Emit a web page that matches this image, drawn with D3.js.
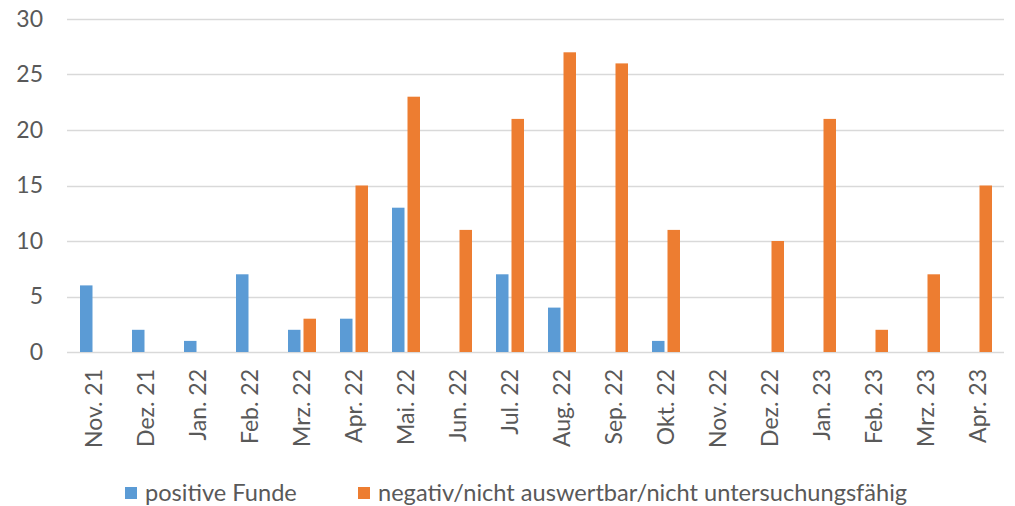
<!DOCTYPE html>
<html>
<head>
<meta charset="utf-8">
<script src="https://cdn.jsdelivr.net/npm/d3@7"></script>
<style>
  html, body { margin: 0; padding: 0; background: #fff; }
  svg { display: block; font-family: Lato, "Open Sans", sans-serif; }
</style>
</head>
<body>
<svg id="chart" width="1015" height="506"></svg>
<script>
// Monthly sample results
const months = ["Nov. 21", "Dez. 21", "Jan. 22", "Feb. 22", "Mrz. 22", "Apr. 22",
  "Mai. 22", "Jun. 22", "Jul. 22", "Aug. 22", "Sep. 22", "Okt. 22",
  "Nov. 22", "Dez. 22", "Jan. 23", "Feb. 23", "Mrz. 23", "Apr. 23"];
const positiveFunde = [6, 2, 1, 7, 2, 3, 13, 0, 7, 4, 0, 1, 0, 0, 0, 0, 0, 0];
const negativFunde = [0, 0, 0, 0, 3, 15, 23, 11, 21, 27, 26, 11, 0, 10, 21, 2, 7, 15];
const seriesNames = ["positive Funde", "negativ/nicht auswertbar/nicht untersuchungsfähig"];
const yTicks = [0, 5, 10, 15, 20, 25, 30];

const colors = ["#5B9BD5", "#ED7D31"];
const textColor = "#595959";
const fontSize = "23px";
const svg = d3.select("#chart");

const plot = { left: 68, right: 1004, top: 19, bottom: 352 };

const x = d3.scaleBand().domain(months).range([plot.left, plot.right]);
const y = d3.scaleLinear().domain([0, 30]).range([plot.bottom, plot.top]);

// Gridlines
svg.append("g")
  .selectAll("line")
  .data(yTicks)
  .join("line")
  .attr("x1", plot.left - 1)
  .attr("x2", plot.right)
  .attr("y1", d => Math.round(y(d)) + 0.5)
  .attr("y2", d => Math.round(y(d)) + 0.5)
  .attr("stroke", "#D9D9D9")
  .attr("stroke-width", 1.3);

// Y axis labels
const yAxis = d3.axisLeft(y).tickValues(yTicks).tickSize(0).tickPadding(0);
svg.append("g")
  .attr("transform", "translate(43,0)")
  .call(yAxis)
  .call(g => g.select(".domain").remove())
  .call(g => g.selectAll("text")
    .attr("fill", textColor)
    .style("font-size", fontSize)
    .style("font-family", "Lato, sans-serif"));

// Bars
const barW = 12.5, innerGap = 3;
const series = [positiveFunde, negativFunde];
series.forEach((vals, si) => {
  svg.append("g")
    .selectAll("rect")
    .data(vals.map((v, i) => ({ m: months[i], v })))
    .join("rect")
    .attr("x", d => x(d.m) + x.bandwidth() / 2 + (si === 0 ? -innerGap / 2 - barW : innerGap / 2))
    .attr("width", barW)
    .attr("y", d => y(d.v))
    .attr("height", d => y(0) - y(d.v))
    .attr("fill", colors[si]);
});

// X axis labels (rotated)
const xAxis = d3.axisBottom(x).tickSize(0).tickPadding(0);
svg.append("g")
  .attr("transform", `translate(0,${plot.bottom})`)
  .call(xAxis)
  .call(g => g.select(".domain").remove())
  .call(g => g.selectAll("text")
    .attr("fill", textColor)
    .style("font-size", fontSize)
    .style("font-family", "Lato, sans-serif")
    .attr("text-anchor", "end")
    .attr("dy", "0.35em")
    .attr("transform", "translate(0,17) rotate(-90)")
    .attr("x", 0)
    .attr("y", 0));

// Legend
const legend = svg.append("g").attr("transform", "translate(0,493)");
const legendX = [125, 358];
seriesNames.forEach((name, i) => {
  legend.append("rect")
    .attr("x", legendX[i])
    .attr("y", -6)
    .attr("width", 12)
    .attr("height", 12)
    .attr("fill", colors[i]);
  legend.append("text")
    .attr("x", legendX[i] + 20)
    .attr("y", 0)
    .attr("dy", "0.35em")
    .attr("fill", textColor)
    .style("font-size", "23.6px")
    .text(name);
});
</script>
</body>
</html>
